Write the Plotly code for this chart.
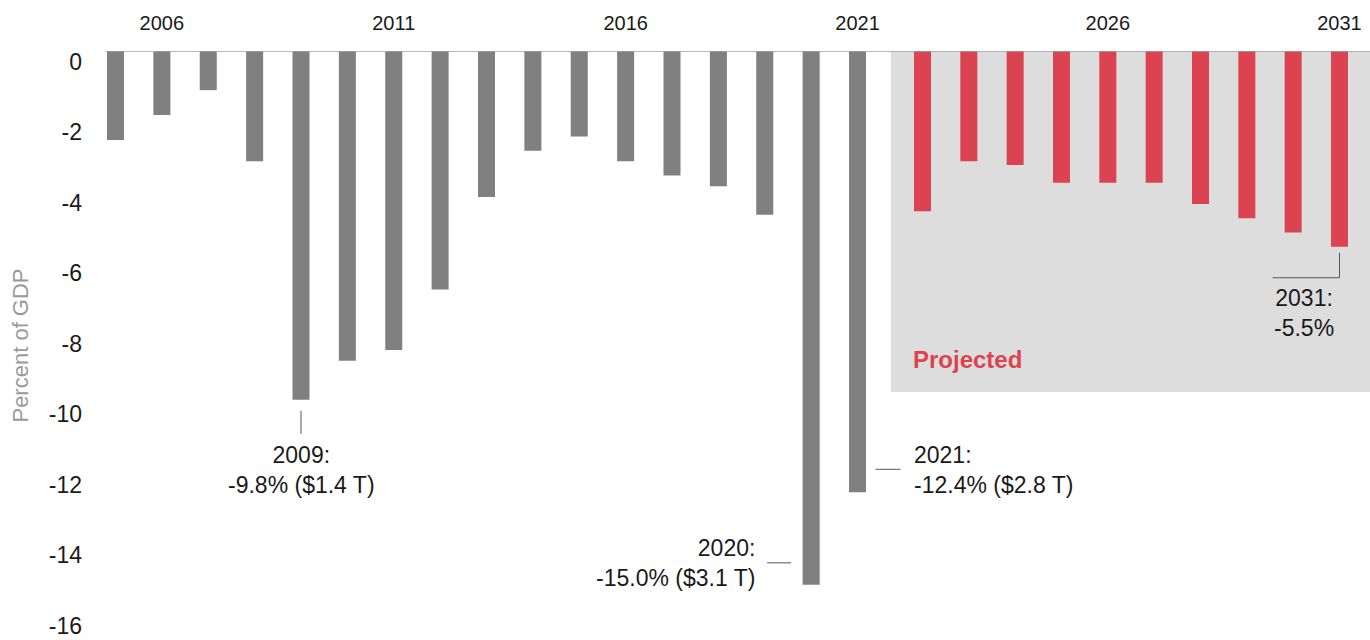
import plotly.graph_objects as go

# Federal budget deficit, percent of GDP
hist_years = list(range(2005, 2022))
hist_values = [-2.5, -1.8, -1.1, -3.1, -9.8, -8.7, -8.4, -6.7, -4.1, -2.8,
               -2.4, -3.1, -3.5, -3.8, -4.6, -15.0, -12.4]

proj_years = list(range(2022, 2032))
proj_values = [-4.5, -3.1, -3.2, -3.7, -3.7, -3.7, -4.3, -4.7, -5.1, -5.5]

hist_ticks = [2006, 2011, 2016, 2021]
proj_ticks = [2026, 2031]
y_ticks = [0, -2, -4, -6, -8, -10, -12, -14, -16]
y_tick_text = [str(v) for v in y_ticks]

GRAY = "#808080"
RED = "#dc4351"
SHADE = "#dddddd"
TEXT = "#1a1a1a"
FONT = "Liberation Sans"

Y_LO, Y_HI = -16.55, 0
# label axis: labels sit a little below their tick values, with slightly tighter spacing
LABEL_RANGE = [-16.397, 0.298]

fig = go.Figure()
fig.add_trace(go.Bar(x=hist_years, y=hist_values, width=0.367,
                     marker=dict(color=GRAY, line=dict(width=0)),
                     xaxis="x", yaxis="y", hoverinfo="skip"))
fig.add_trace(go.Bar(x=proj_years, y=proj_values, width=0.367,
                     marker=dict(color=RED, line=dict(width=0)),
                     xaxis="x2", yaxis="y", hoverinfo="skip"))
# invisible carrier for the value axis labels
fig.add_trace(go.Scatter(x=[hist_years[0]], y=[0], mode="markers",
                         marker=dict(opacity=0), xaxis="x", yaxis="y2",
                         hoverinfo="skip"))

split = 0.62134
xcommon = dict(side="top", showgrid=False, zeroline=False, showline=False,
               ticks="", tickfont=dict(family=FONT, size=20, color=TEXT),
               ticklabelstandoff=16, fixedrange=True, automargin=False)

fig.update_layout(
    width=1370, height=640,
    margin=dict(l=105, r=0, t=51, b=0),
    paper_bgcolor="white", plot_bgcolor="rgba(0,0,0,0)",
    showlegend=False, barmode="overlay",
    font=dict(family=FONT, color=TEXT),
    xaxis=dict(domain=[0, 1], range=[2004.7736, 2032.051],
               tickvals=hist_ticks, anchor="y", **xcommon),
    xaxis2=dict(domain=[split, 1], range=[2021.3201, 2031.6583],
                tickvals=proj_ticks, anchor="y", **xcommon),
    yaxis=dict(range=[Y_LO, Y_HI], showticklabels=False, showgrid=False,
               zeroline=False, showline=False, ticks="", fixedrange=True,
               automargin=False),
    yaxis2=dict(range=LABEL_RANGE, overlaying="y",
                anchor="x", side="left", tickvals=y_ticks, ticktext=y_tick_text,
                showgrid=False, zeroline=False, showline=False, ticks="",
                ticklabelstandoff=22, ticklabeloverflow="allow",
                tickfont=dict(family=FONT, size=23, color=TEXT),
                title=dict(text="Percent of GDP", standoff=14,
                           font=dict(family=FONT, size=22, color="#9a9a9a")),
                fixedrange=True, automargin=False),
)

# Shaded projection window and the zero baseline
fig.add_shape(type="rect", xref="x2 domain", yref="y", x0=0, x1=1, y0=0, y1=-9.58,
              fillcolor=SHADE, line=dict(width=0), layer="below")
fig.add_shape(type="line", xref="paper", yref="y", x0=0, x1=1, y0=0, y1=0,
              line=dict(color="#a0a0a0", width=1.5), layer="above")

LINE = dict(color="#555555", width=1)


def leader(xref, xv, yv, x0, x1, y0, y1):
    fig.add_shape(type="line", xref=xref, yref="y",
                  xsizemode="pixel", xanchor=xv, x0=x0, x1=x1,
                  ysizemode="pixel", yanchor=yv, y0=y0, y1=y1, line=LINE)


def note(xref, xv, yv, text, xs, ys, xanchor, align):
    fig.add_annotation(xref=xref, yref="y", x=xv, y=yv, text=text, showarrow=False,
                       xshift=xs, yshift=ys, xanchor=xanchor, yanchor="middle",
                       align=align, font=dict(family=FONT, size=23, color=TEXT))


v2009 = hist_values[hist_years.index(2009)]
v2020 = hist_values[hist_years.index(2020)]
v2021 = hist_values[hist_years.index(2021)]
v2031 = proj_values[proj_years.index(2031)]

leader("x", 2009, v2009, 0, 0, -11, -34)
note("x", 2009, v2009, "2009:<br>%.1f%% ($1.4 T)" % v2009, 0, -70, "center", "center")

leader("x", 2020, v2020, -44, -20, 22, 22)
note("x", 2020, v2020, "2020:<br>%.1f%% ($3.1 T)" % v2020, -54, 22, "right", "right")

leader("x", 2021, v2021, 18, 43, 23, 23)
note("x", 2021, v2021, "2021:<br>%.1f%% ($2.8 T)" % v2021, 54, 22, "left", "left")

leader("x2", 2031, v2031, 0, 0, -6, -31)
leader("x2", 2031, v2031, -67, 0, -31, -31)
note("x2", 2031, v2031, "2031:<br>%.1f%%" % v2031, -35, -66, "center", "center")

fig.add_annotation(xref="x2 domain", yref="y", x=0, y=-8.66, xshift=20,
                   text="<b>Projected</b>", showarrow=False, xanchor="left",
                   yanchor="middle", font=dict(family=FONT, size=24, color=RED))

fig.write_html("out.html")
